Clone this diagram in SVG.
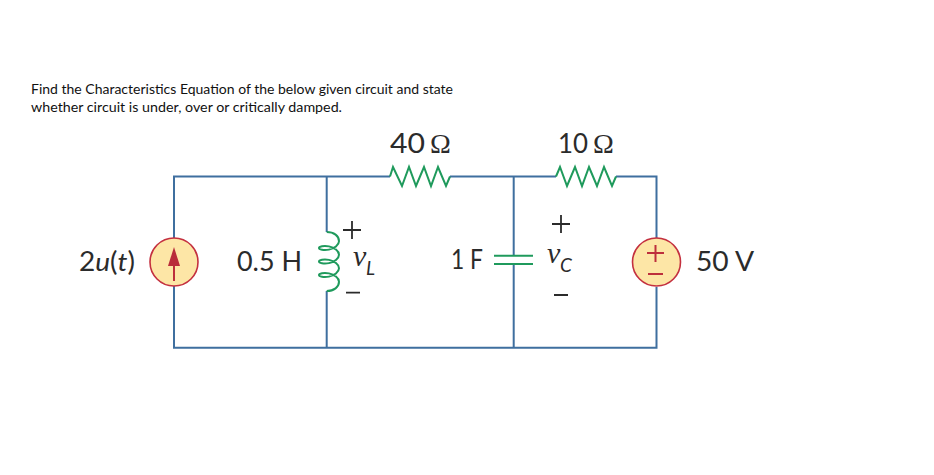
<svg xmlns="http://www.w3.org/2000/svg" width="934" height="475" viewBox="0 0 934 475">
<style>
.w{fill:none;stroke:#3f6f9f;stroke-width:2}
.g{fill:none;stroke:#1f9a5c;stroke-width:2}
.r{fill:none;stroke:#bd2f3c;stroke-width:2}
.s{fill:#fde6a6;stroke:#c4303f;stroke-width:1.6}
.t{font-family:Lato,"Open Sans",sans-serif;font-size:14px;fill:#111}
.l{font-family:Lato,"Open Sans",sans-serif;font-size:26px;fill:#2b2b2b}
.v{font-family:"Liberation Serif",serif;font-size:30px;font-style:italic;fill:#2b2b2b}
.sub{font-family:Lato,"Open Sans",sans-serif;font-size:19px;font-style:italic;fill:#2b2b2b}
.o{font-family:"Liberation Serif",serif;font-size:28px;fill:#2b2b2b}
.d{stroke:#2b2b2b;stroke-width:1.8;fill:none}
</style>
<rect width="934" height="475" fill="#fff"/>
<g id="question">
<text class="t" x="31" y="94" textLength="422" lengthAdjust="spacingAndGlyphs">Find the Characteristics Equation of the below given circuit and state</text>
<text class="t" x="31" y="112" textLength="311" lengthAdjust="spacingAndGlyphs">whether circuit is under, over or critically damped.</text>
</g>
<g id="connectors">
<path class="w" d="M174 238V176.500H390M450 176.500H556M616 176.500H656.500V238M656.500 287V347.800H174V286"/>
<path class="w" d="M326.700 176.500V232M326.700 291V347.800M513.700 176.500V255M513.700 265V347.800"/>
</g>
<g id="current-source">
<circle class="s" cx="174" cy="262" r="24"/>
<path class="r" d="M174 281V262"/>
<path d="M174 247L180 266H168Z" fill="#b92c3a"/>
<text class="l" x="79" y="271" textLength="56" lengthAdjust="spacingAndGlyphs">2<tspan font-style="italic">u</tspan>(<tspan font-style="italic">t</tspan>)</text>
</g>
<g id="inductor">
<path class="g" d="M326.700 232C334 232 339 236 339 241.250c0 3.740-4.760 7.240-10 8.370c-5.240 1.130-10-.130-10-1.620c0-1.490 4.760-2.750 10-1.620c5.240 1.130 10 4.630 10 8.370c0 3.740-4.760 7.240-10 8.370c-5.240 1.130-10-.130-10-1.620c0-1.490 4.760-2.750 10-1.620c5.240 1.130 10 4.630 10 8.370c0 3.740-4.760 7.240-10 8.370c-5.240 1.130-10-.130-10-1.620c0-1.490 4.760-2.750 10-1.620c5.240 1.130 10 4.630 10 8.370C339 287 334 291 326.700 291"/>
<text class="l" x="237" y="271" textLength="65" lengthAdjust="spacingAndGlyphs">0.5 H</text>
<path class="d" d="M343 230H361M352 221V239M346 292.700H360"/>
<text class="v" x="353" y="266">v</text><text class="sub" x="366" y="275">L</text>
</g>
<g id="resistor-40">
<path class="g" d="M390 176.500L393 167L402 186L409 167L416 186L424 167L431 186L438 167L446 186L450 176.500"/>
<text class="l" x="390" y="153" textLength="35" lengthAdjust="spacingAndGlyphs">40</text><text class="o" x="430" y="153">Ω</text>
</g>
<g id="resistor-10">
<path class="g" d="M556 176.500L560 167L567 186L575 167L582 186L589 167L597 186L604 167L612 186L616 176.500"/>
<text class="l" x="558" y="153" textLength="30" lengthAdjust="spacingAndGlyphs">10</text><text class="o" x="593" y="153">Ω</text>
</g>
<g id="capacitor">
<path class="g" d="M494 255.700H533M494 264H533"/>
<text class="l" x="451" y="269" textLength="32" lengthAdjust="spacingAndGlyphs">1 F</text>
<path class="d" d="M552 224H570M561 215V233M554 295H568"/>
<text class="v" x="547" y="263">v</text><text class="sub" x="560" y="272">C</text>
</g>
<g id="voltage-source">
<circle class="s" cx="656.500" cy="262" r="24"/>
<path class="r" d="M647 253H664M655.500 245V262M648 274H663"/>
<text class="l" x="696" y="271" textLength="58" lengthAdjust="spacingAndGlyphs">50 V</text>
</g>
</svg>
